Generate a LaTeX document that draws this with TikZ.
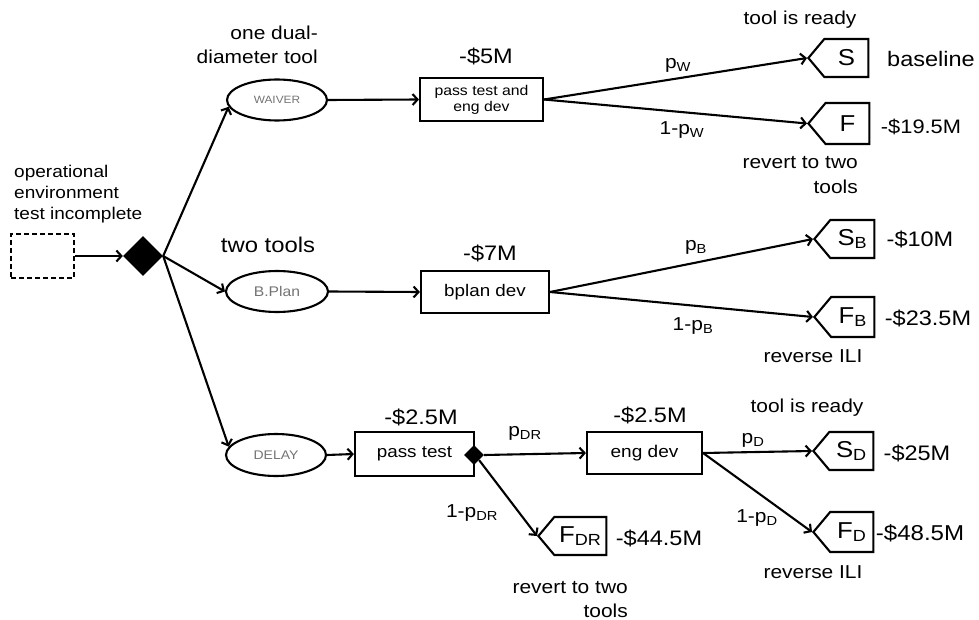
\documentclass[tikz,border=0pt]{standalone}
\usepackage{fontspec}
\setmainfont{Liberation Sans}[FakeStretch=1.12]
\usetikzlibrary{arrows.meta,shapes.geometric,shapes.symbols}
\tikzset{
  link/.style={line width=2.1pt, -{Straight Barb[length=5pt,width=11pt]}},
  lbl/.style={font=\fontsize{18.7}{24}\selectfont, inner sep=0pt},
  cost/.style={font=\fontsize{21}{24}\selectfont, inner sep=0pt},
  option/.style={ellipse, draw, line width=2.1pt, minimum width=100pt, minimum height=41pt,
    inner sep=0pt, text=black!55},
  task/.style={draw, rectangle, line width=2.1pt, inner sep=0pt, align=center,
    font=\fontsize{16.8}{18}\selectfont},
  leaf/.style={signal, signal to=west, signal from=nowhere, signal pointer angle=100,
    draw, line width=2.1pt, minimum width=60pt, minimum height=38pt, inner sep=0pt,
    anchor=west, font=\fontsize{23}{26}\selectfont},
  choice/.style={diamond, fill=black, inner sep=0pt}
}
\begin{document}
\begin{tikzpicture}[x=1pt, y=-1pt]
	\useasboundingbox (0,0) rectangle (979,620);

	% start
	\node[draw, dash pattern=on 5pt off 3pt, line width=1.8pt, minimum width=63pt, minimum height=44pt] (start) at (42.5,256) {};
	\node[lbl, align=left, anchor=west, font=\fontsize{17}{21}\selectfont] (envtxt) at (14,194) {operational\\environment\\test incomplete};
	\node[choice, minimum width=40pt, minimum height=40pt] (dec) at (143,256) {};

	% options
	\node[option, font=\fontsize{10.6}{13}\selectfont] (waiver) at (277,100) {WAIVER};
	\node[option, minimum width=102pt, font=\fontsize{14}{16}\selectfont] (bplan) at (277,291.5) {B.Plan};
	\node[option, minimum height=42pt, font=\fontsize{12.5}{14}\selectfont] (delay) at (276,455) {DELAY};
	\node[lbl, align=right, anchor=east] (waivertxt) at (318,45) {one dual-\\diameter tool};
	\node[lbl, font=\fontsize{21.3}{24}\selectfont] (bplantxt) at (268,245) {two tools};

	% waiver branch
	\node[task, minimum width=123pt, minimum height=43pt, font=\fontsize{14.1}{16}\selectfont] (wdev) at (481.5,99.5) {pass test and\\eng dev};
	\node[cost] (wcost) at (486,56) {-\$5M};
	\node[leaf] (S) at (807,58) {S};
	\node[leaf, minimum width=61pt, minimum height=41pt] (F) at (807,123.5) {F};
	\node[lbl] (Stxt) at (800,20) {tool is ready};
	\node[lbl, font=\fontsize{21}{24}\selectfont] (Sval) at (931,59) {baseline};
	\node[lbl, font=\fontsize{19.5}{24}\selectfont] (Fval) at (921,127) {-\$19.5M};
	\node[lbl, align=right, anchor=east, font=\fontsize{18.7}{25}\selectfont] (Ftxt) at (858,175.5) {revert to two\\tools};
	\node[lbl] (pW) at (678,65) {p\textsubscript{W}};
	\node[lbl] (qW) at (682,130) {1-p\textsubscript{W}};

	% b.plan branch
	\node[task, minimum width=128pt, minimum height=42pt] (bdev) at (485,292) {bplan dev};
	\node[cost] (bcost) at (490,253) {-\$7M};
	\node[leaf] (SB) at (813,239) {S\textsubscript{B}};
	\node[leaf, minimum height=40pt] (FB) at (813,317) {F\textsubscript{B}};
	\node[cost] (SBval) at (920,239) {-\$10M};
	\node[cost] (FBval) at (928,318) {-\$23.5M};
	\node[lbl] (FBtxt) at (813,356) {reverse ILI};
	\node[lbl] (pB) at (696,247) {p\textsubscript{B}};
	\node[lbl] (qB) at (693,326) {1-p\textsubscript{B}};

	% delay branch
	\node[task, minimum width=119pt, minimum height=44pt] (dtest) at (414.5,454) {pass test};
	\node[cost] (dtcost) at (421,417) {-\$2.5M};
	\node[choice, minimum width=20pt, minimum height=20pt] (dec2) at (474,455) {};
	\node[task, minimum width=115pt, minimum height=42pt, font=\fontsize{17}{18}\selectfont] (ddev) at (644.5,453) {eng dev};
	\node[cost] (ddcost) at (650,415) {-\$2.5M};
	\node[lbl] (pDR) at (525,433) {p\textsubscript{DR}};
	\node[lbl] (qDR) at (472,513) {1-p\textsubscript{DR}};
	\node[leaf, minimum width=68pt] (FDR) at (537,536) {F\textsubscript{DR}};
	\node[cost] (FDRval) at (659,538) {-\$44.5M};
	\node[lbl, align=right, anchor=east] (FDRtxt) at (628,600) {revert to two\\tools};
	\node[leaf] (SD) at (812,451) {S\textsubscript{D}};
	\node[leaf, minimum height=40pt] (FD) at (812,532) {F\textsubscript{D}};
	\node[cost] (SDval) at (917,453) {-\$25M};
	\node[cost, font=\fontsize{21.5}{24}\selectfont] (FDval) at (920,533) {-\$48.5M};
	\node[lbl] (SDtxt) at (807,408) {tool is ready};
	\node[lbl] (FDtxt) at (813,572) {reverse ILI};
	\node[lbl] (pD) at (753,440) {p\textsubscript{D}};
	\node[lbl] (qD) at (757,518) {1-p\textsubscript{D}};

	% arrows
	\draw[link] (start.east) -- (dec.west);
	\draw[link] (dec.east) -- (waiver.188);
	\draw[link] (dec.east) -- (bplan.west);
	\draw[link] (dec.east) -- (delay.170);
	\draw[link] (waiver.east) -- (wdev.west);
	\draw[link] (bplan.east) -- (bdev.west);
	\draw[link] (delay.east) -- (dtest.west);
	\draw[link] (wdev.east) -- (S.west);
	\draw[link] (wdev.east) -- (F.west);
	\draw[link] (bdev.east) -- (SB.west);
	\draw[link] (bdev.east) -- (FB.west);
	\draw[link] (dec2.east) -- (ddev.west);
	\draw[link] (dec2.south east) -- (FDR.west);
	\draw[link] (ddev.east) -- (SD.west);
	\draw[link] (ddev.east) -- (FD.west);
\end{tikzpicture}
\end{document}
